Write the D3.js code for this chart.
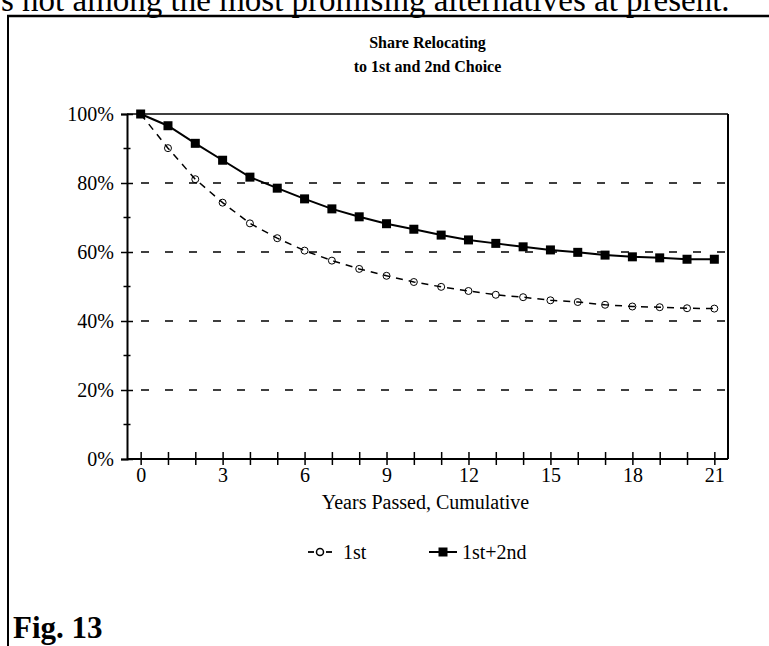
<!DOCTYPE html>
<html>
<head>
<meta charset="utf-8">
<script src="https://cdn.jsdelivr.net/npm/d3@7/dist/d3.min.js"></script>
<style>
  html, body { margin: 0; padding: 0; background: #fff; }
  svg { display: block; }
  text { font-family: "Liberation Serif", "Times New Roman", serif; fill: #000; }
</style>
</head>
<body>
<svg id="chart" width="769" height="646"></svg>
<script>
const years = d3.range(0, 22);
const first = [100, 90.1, 81.1, 74.3, 68.3, 64.0, 60.4, 57.5, 55.1, 53.1, 51.3, 49.9,
               48.7, 47.6, 46.9, 46.0, 45.5, 44.7, 44.2, 44.0, 43.7, 43.6];
const firstSecond = [100, 96.6, 91.5, 86.6, 81.7, 78.5, 75.4, 72.5, 70.2, 68.2, 66.6, 64.9,
                     63.5, 62.5, 61.5, 60.6, 59.9, 59.1, 58.6, 58.3, 57.9, 57.9];
const xTickLabels = [0, 3, 6, 9, 12, 15, 18, 21];
const yMajor = [0, 20, 40, 60, 80, 100];
const yMinor = [10, 30, 50, 70, 90];
const gridValues = [20, 40, 60, 80];
const seriesNames = ["1st", "1st+2nd"];
const titleLines = ["Share Relocating", "to 1st and 2nd Choice"];
const xTitle = "Years Passed, Cumulative";
const topText = "s not among the most promising alternatives at present.";
const figLabel = "Fig. 13";

const svg = d3.select("#chart");
const L = 127, R = 728, T = 114, B = 459;
const x = d3.scaleLinear().domain([-0.5, 21.5]).range([L, R]);
const y = d3.scaleLinear().domain([0, 100]).range([B, T]);
const FONT = "Liberation Serif, Times New Roman, serif";

// top cut-off text (continuation of page text above the figure)
svg.append("text").attr("x", 1).attr("y", 11).style("font-size", "33px").text(topText);

// outer frame (top and left)
svg.append("line").attr("x1", 7).attr("x2", 769).attr("y1", 16).attr("y2", 16)
  .attr("stroke", "#000").attr("stroke-width", 2.5);
svg.append("line").attr("x1", 8).attr("x2", 8).attr("y1", 15).attr("y2", 646)
  .attr("stroke", "#000").attr("stroke-width", 2);

// title
svg.selectAll("text.title").data(titleLines).join("text").attr("class", "title")
  .attr("x", (L + R) / 2).attr("y", (d, i) => 48 + i * 24)
  .attr("text-anchor", "middle").style("font-size", "16px").style("font-weight", "bold")
  .text(d => d);

// gridlines
svg.append("g").selectAll("line").data(gridValues).join("line")
  .attr("x1", L + 14).attr("x2", R).attr("y1", d => y(d)).attr("y2", d => y(d))
  .attr("stroke", "#000").attr("stroke-width", 1.5).attr("stroke-dasharray", "8,16");

// top and right border of plot
svg.append("line").attr("x1", L).attr("x2", R).attr("y1", y(100)).attr("y2", y(100))
  .attr("stroke", "#000").attr("stroke-width", 1.5);
svg.append("line").attr("x1", R).attr("x2", R).attr("y1", y(100)).attr("y2", B)
  .attr("stroke", "#000").attr("stroke-width", 2);

// y axis
const yAxis = svg.append("g").attr("transform", `translate(${L},0)`)
  .call(d3.axisLeft(y).tickValues(yMajor).tickFormat(d => d + "%").tickSize(6).tickPadding(7))
  .attr("font-family", FONT).attr("font-size", 20);
yAxis.select(".domain").attr("stroke-width", 2);
yAxis.selectAll(".tick line").attr("x2", -6).attr("x1", 6).attr("stroke-width", 1.5);
yAxis.selectAll(".tick text").style("font-size", "20px").style("font-family", FONT).attr("dy", "0.34em");
svg.append("g").selectAll("line").data(yMinor).join("line")
  .attr("x1", L - 3.5).attr("x2", L + 3.5).attr("y1", d => y(d)).attr("y2", d => y(d))
  .attr("stroke", "#000").attr("stroke-width", 1.5);

// x axis
const xAxis = svg.append("g").attr("transform", `translate(0,${B})`)
  .call(d3.axisBottom(x).tickValues(years)
    .tickFormat(d => xTickLabels.includes(d) ? d : "").tickSize(6).tickPadding(3))
  .attr("font-family", FONT).attr("font-size", 20);
xAxis.select(".domain").attr("stroke-width", 2).attr("d", `M${L},0H${R}`);
xAxis.selectAll(".tick line").attr("y1", -7).attr("y2", 6).attr("stroke-width", 1.5);
xAxis.selectAll(".tick text").style("font-size", "20px").style("font-family", FONT);

// x title
svg.append("text").attr("x", (L + R) / 2 - 2).attr("y", 509).attr("text-anchor", "middle")
  .style("font-size", "20px").text(xTitle);

// series 1st+2nd
const line = d3.line().x((d, i) => x(years[i])).y(d => y(d));
svg.append("path").datum(firstSecond).attr("d", line).attr("fill", "none")
  .attr("stroke", "#000").attr("stroke-width", 2);
svg.append("g").selectAll("rect").data(firstSecond).join("rect")
  .attr("x", (d, i) => x(years[i]) - 4.5).attr("y", d => y(d) - 4.5)
  .attr("width", 9).attr("height", 9).attr("fill", "#000");

// series 1st
svg.append("path").datum(first).attr("d", line).attr("fill", "none")
  .attr("stroke", "#000").attr("stroke-width", 1.5).attr("stroke-dasharray", "7,6");
svg.append("g").selectAll("circle").data(first).join("circle")
  .attr("cx", (d, i) => x(years[i])).attr("cy", d => y(d)).attr("r", 3.5)
  .attr("fill", "none").attr("stroke", "#000").attr("stroke-width", 1);

// legend
const ly = 552;
const lg = svg.append("g");
lg.append("line").attr("x1", 308).attr("x2", 314).attr("y1", ly).attr("y2", ly).attr("stroke", "#000").attr("stroke-width", 1.8);
lg.append("line").attr("x1", 326).attr("x2", 332).attr("y1", ly).attr("y2", ly).attr("stroke", "#000").attr("stroke-width", 1.8);
lg.append("circle").attr("cx", 320).attr("cy", ly).attr("r", 3.5).attr("fill", "#fff").attr("stroke", "#000").attr("stroke-width", 1.5);
lg.append("text").attr("x", 343).attr("y", ly + 7).style("font-size", "20px").text(seriesNames[0]);
lg.append("line").attr("x1", 429).attr("x2", 457).attr("y1", ly).attr("y2", ly).attr("stroke", "#000").attr("stroke-width", 2);
lg.append("rect").attr("x", 438.5).attr("y", ly - 4.5).attr("width", 9).attr("height", 9).attr("fill", "#000");
lg.append("text").attr("x", 462).attr("y", ly + 7).style("font-size", "20px").text(seriesNames[1]);

// figure label
svg.append("text").attr("x", 13).attr("y", 638).style("font-size", "31px").style("font-weight", "bold").text(figLabel);
</script>
</body>
</html>
